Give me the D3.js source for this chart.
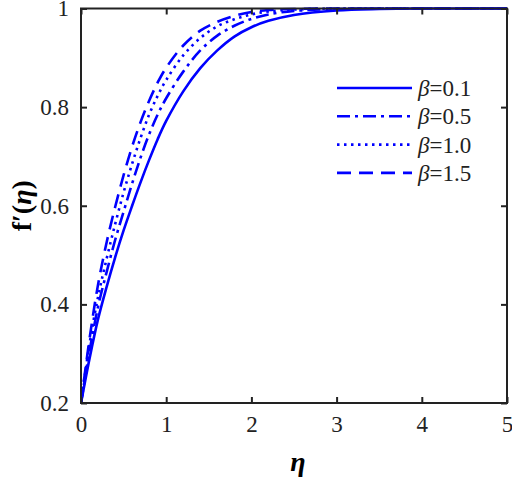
<!DOCTYPE html>
<html>
<head>
<meta charset="utf-8">
<script src="https://cdn.jsdelivr.net/npm/d3@7"></script>
<style>
  html, body { margin: 0; padding: 0; background: #fff; }
  svg { display: block; }
  svg text { font-family: "Liberation Serif", "Times New Roman", serif; }
</style>
</head>
<body>
<div id="chart"></div>
<script>
// eta grid
const eta = [0, 0.1, 0.2, 0.3, 0.4, 0.5, 0.6, 0.7, 0.8, 0.9, 1.0, 1.2, 1.4, 1.6, 1.8, 2.0, 2.2, 2.5, 3.0, 3.5, 4.0, 5.0];

const beta01 = [0.2, 0.29, 0.37, 0.435, 0.495, 0.55, 0.60, 0.648, 0.693, 0.735, 0.772, 0.832, 0.879, 0.915, 0.943, 0.962, 0.975, 0.987, 0.996, 0.999, 1.0, 1.0];
const beta05 = [0.2, 0.305, 0.395, 0.465, 0.53, 0.588, 0.645, 0.698, 0.745, 0.785, 0.818, 0.872, 0.915, 0.945, 0.965, 0.979, 0.988, 0.995, 0.999, 1.0, 1.0, 1.0];
const beta10 = [0.2, 0.32, 0.415, 0.492, 0.562, 0.627, 0.685, 0.738, 0.785, 0.823, 0.855, 0.905, 0.94, 0.964, 0.978, 0.988, 0.994, 0.998, 1.0, 1.0, 1.0, 1.0];
const beta15 = [0.2, 0.33, 0.44, 0.525, 0.597, 0.662, 0.72, 0.77, 0.813, 0.85, 0.88, 0.925, 0.955, 0.973, 0.985, 0.993, 0.997, 0.999, 1.0, 1.0, 1.0, 1.0];

const legendLabels = ["0.1", "0.5", "1.0", "1.5"];
const xTicks = [0, 1, 2, 3, 4, 5];
const yTicks = [0.2, 0.4, 0.6, 0.8, 1];

const width = 512, height = 480;
const margin = { left: 81, right: 5, top: 8.5, bottom: 77 };
const serif = "Liberation Serif, Times New Roman, serif";

const series = [
  { label: legendLabels[0], values: beta01, dash: null },
  { label: legendLabels[1], values: beta05, dash: "13,5,3,5" },
  { label: legendLabels[2], values: beta10, dash: "2.5,4.5" },
  { label: legendLabels[3], values: beta15, dash: "14,8" }
];

const x = d3.scaleLinear().domain([0, 5]).range([margin.left, width - margin.right]);
const y = d3.scaleLinear().domain([0.2, 1]).range([height - margin.bottom, margin.top]);

const svg = d3.select("#chart")
  .append("svg")
  .attr("width", width)
  .attr("height", height)
  .attr("font-family", serif);

svg.append("clipPath").attr("id", "clip")
  .append("rect")
  .attr("x", x(0)).attr("y", y(1) - 2)
  .attr("width", x(5) - x(0)).attr("height", y(0.2) - y(1) + 2);

const line = d3.line()
  .x((d, i) => x(eta[i]))
  .y((d) => y(d))
  .curve(d3.curveCatmullRom.alpha(0.5));

svg.append("g")
  .attr("clip-path", "url(#clip)")
  .selectAll("path")
  .data(series)
  .join("path")
  .attr("fill", "none")
  .attr("stroke", "#0000ff")
  .attr("stroke-width", 2.6)
  .attr("stroke-dasharray", (d) => d.dash)
  .attr("d", (d) => line(d.values));

// axes: ticks point inward, on all four sides
const tickLen = 6;
const styleAxis = (g) => {
  g.attr("font-family", serif);
  g.select(".domain").remove();
  g.selectAll("text").attr("font-size", 23).attr("fill", "#222");
};

svg.append("g")
  .attr("transform", `translate(0,${y(0.2)})`)
  .call(d3.axisBottom(x).tickValues(xTicks).tickSize(-tickLen).tickPadding(13).tickFormat(d3.format("d")))
  .call(styleAxis);

svg.append("g")
  .attr("transform", `translate(0,${y(1)})`)
  .call(d3.axisTop(x).tickValues(xTicks).tickSize(-tickLen).tickFormat(""))
  .call(styleAxis);

svg.append("g")
  .attr("transform", `translate(${x(0)},0)`)
  .call(d3.axisLeft(y).tickValues(yTicks).tickSize(-tickLen).tickPadding(12).tickFormat((d) => d === 1 ? "1" : d3.format(".1f")(d)))
  .call(styleAxis);

svg.append("g")
  .attr("transform", `translate(${x(5)},0)`)
  .call(d3.axisRight(y).tickValues(yTicks).tickSize(-tickLen).tickFormat(""))
  .call(styleAxis);

svg.selectAll(".tick line").attr("stroke", "#222").attr("stroke-width", 2);

svg.append("rect")
  .attr("x", x(0)).attr("y", y(1))
  .attr("width", x(5) - x(0)).attr("height", y(0.2) - y(1))
  .attr("fill", "none")
  .attr("stroke", "#222")
  .attr("stroke-width", 2);

// axis titles
svg.append("text")
  .attr("x", (x(0) + x(5)) / 2 + 4)
  .attr("y", 471)
  .attr("text-anchor", "middle")
  .attr("font-size", 28)
  .attr("font-weight", "bold")
  .attr("font-style", "italic")
  .text("η");

const yTitle = svg.append("text")
  .attr("transform", `translate(31,${(y(0.2) + y(1)) / 2}) rotate(-90)`)
  .attr("text-anchor", "middle")
  .attr("font-size", 28)
  .attr("font-weight", "bold");
yTitle.append("tspan").text("f′(");
yTitle.append("tspan").attr("font-style", "italic").text("η");
yTitle.append("tspan").text(")");

// legend
const legend = svg.append("g")
  .selectAll("g")
  .data(series)
  .join("g")
  .attr("transform", (d, i) => `translate(337,${88 + i * 28.3})`);

legend.append("line")
  .attr("x1", 0).attr("x2", 75)
  .attr("stroke", "#0000ff")
  .attr("stroke-width", 2.6)
  .attr("stroke-dasharray", (d) => d.dash);

const legendText = legend.append("text")
  .attr("x", 81)
  .attr("y", 8)
  .attr("font-size", 23)
  .attr("fill", "#222");
legendText.append("tspan").attr("font-style", "italic").text("β");
legendText.append("tspan").text((d) => "=" + d.label);
</script>
</body>
</html>
